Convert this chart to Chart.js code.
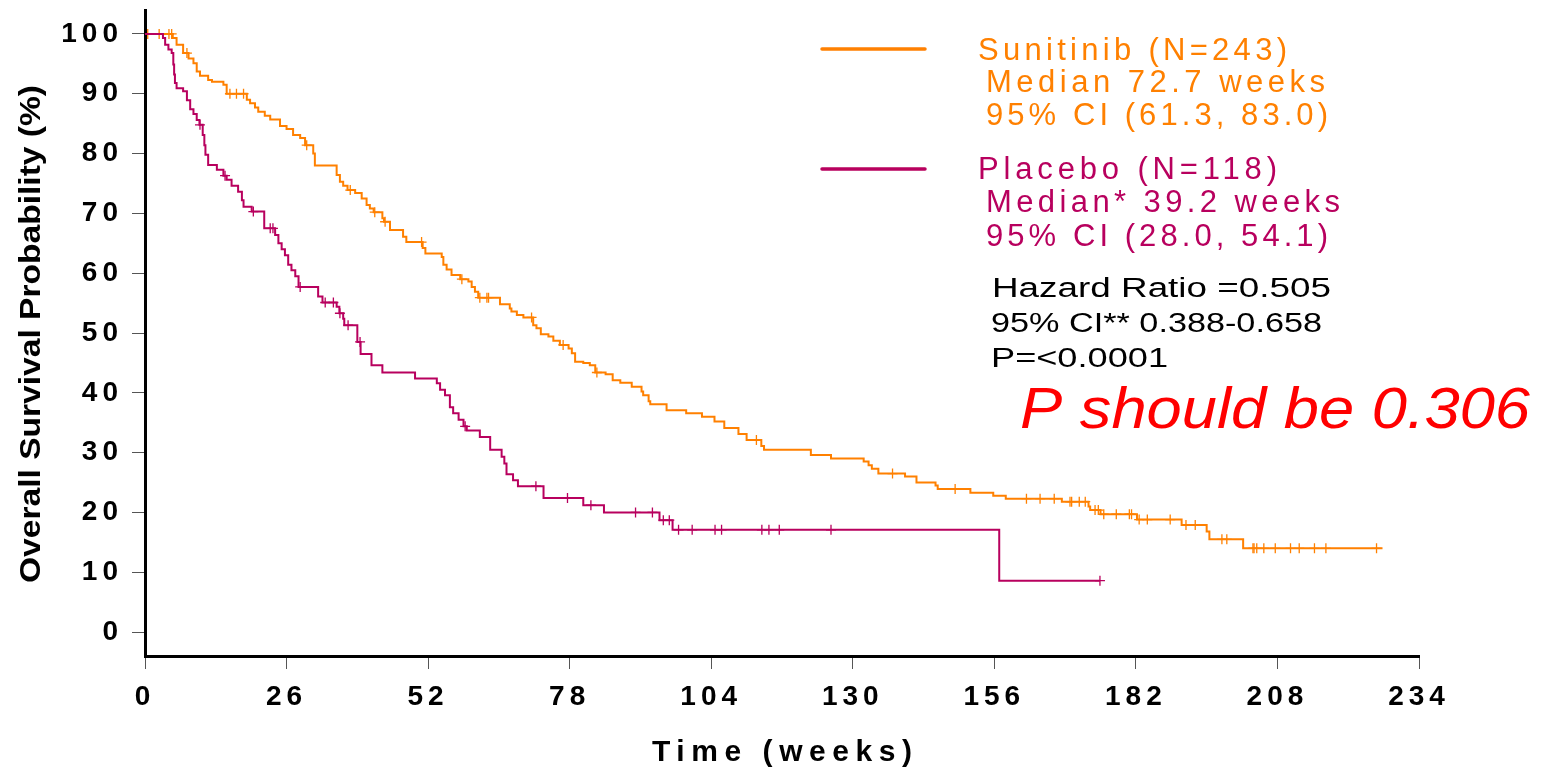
<!DOCTYPE html>
<html>
<head>
<meta charset="utf-8">
<script src="https://cdn.jsdelivr.net/npm/chart.js@4.4.1/dist/chart.umd.min.js"></script>
<style>
  html, body { margin: 0; background: #fff; }
  #wrap { width: 1544px; height: 771px; position: relative; }
</style>
</head>
<body>
<div id="wrap"><canvas id="chart"></canvas></div>
<script>
// Kaplan-Meier overall survival, sunitinib vs placebo (weeks)

const xTickValues = [0, 26, 52, 78, 104, 130, 156, 182, 208, 234];
const yTickValues = [0, 10, 20, 30, 40, 50, 60, 70, 80, 90, 100];

// event times (weeks) and survival (%) after each event
const sunTimes = [0, 5.1, 5.8, 7.0, 8.0, 8.9, 9.5, 10.1, 11.6, 12.3, 14.4, 15.0, 18.7, 19.3, 20.2, 20.8,
  22.0, 23.0, 24.8, 26.0, 27.2, 28.5, 29.4, 30.9, 31.2, 35.2, 35.8, 36.4, 37.2, 38.6, 39.8, 40.7,
  41.3, 42.0, 43.6, 43.9, 45.0, 47.4, 48.0, 51.0, 51.5, 54.5, 54.8, 55.4, 56.3, 57.9, 59.4, 60.0,
  60.6, 61.2, 65.2, 67.0, 67.3, 68.3, 69.5, 71.3, 71.9, 72.7, 74.1, 75.0, 76.2, 77.8, 78.4, 79.0,
  80.5, 81.7, 82.7, 84.6, 85.9, 87.3, 89.4, 91.2, 91.5, 92.5, 92.8, 95.8, 99.4, 102.3, 104.6, 106.4,
  109.0, 110.5, 113.2, 113.7, 122.3, 126.0, 132.0, 132.9, 133.5, 134.7, 139.6, 141.7, 145.2, 145.6,
  151.6, 155.8, 158.1, 168.4, 173.3, 173.6, 175.5, 182.2, 190.4, 195.0, 195.5, 201.7, 227.3];
const sunSurv = [100, 99.3, 98.2, 96.8, 95.9, 95.1, 93.7, 93.0, 92.3, 92.0, 91.5, 90.0, 89.0, 88.4, 87.7, 87.0,
  86.3, 85.7, 84.6, 84.1, 83.1, 82.6, 81.4, 80.0, 78.0, 76.4, 75.3, 74.6, 73.9, 73.4, 72.5, 71.4,
  70.8, 70.2, 69.2, 68.6, 67.2, 66.1, 65.2, 64.2, 63.3, 62.7, 61.4, 60.6, 59.7, 59.0, 58.6, 57.7,
  56.9, 55.9, 54.8, 54.1, 53.6, 53.0, 52.6, 51.3, 50.8, 49.8, 49.4, 48.7, 48.0, 47.4, 46.6, 45.2,
  45.0, 44.6, 43.4, 43.1, 42.1, 41.7, 41.0, 40.2, 39.6, 38.6, 38.1, 37.1, 36.6, 36.0, 35.2, 34.1,
  33.1, 32.1, 31.1, 30.5, 29.6, 29.0, 28.5, 27.9, 27.3, 26.5, 26.0, 25.0, 24.5, 23.9,
  23.3, 22.8, 22.3, 21.8, 21.0, 20.4, 19.7, 18.8, 17.9, 16.8, 15.5, 14.0, 14.0];
const sunCensored = [0.5, 2.6, 4.4, 4.9, 7.7, 15.6, 16.8, 18.1, 29.7, 37.7, 42.2, 44.1, 50.8, 58.2, 61.5,
  62.8, 63.1, 71.0, 76.8, 83.0, 112.3, 137.3, 148.8, 161.9, 164.4, 167.0, 169.9, 170.2, 171.6, 172.7,
  174.5, 175.1, 176.1, 178.4, 180.8, 181.2, 182.6, 184.1, 188.3, 191.2, 192.9, 197.8, 198.7, 203.5,
  203.7, 204.2, 205.5, 207.6, 210.4, 212.0, 214.8, 216.9, 226.2];

const plaTimes = [0, 3.3, 3.7, 4.3, 4.9, 5.2, 5.35, 5.5, 5.8, 7.0, 7.7, 8.3, 8.9, 9.5, 10.0, 10.6, 10.9,
  11.1, 11.6, 13.2, 14.4, 15.0, 15.9, 17.1, 17.8, 18.1, 19.6, 21.9, 23.9, 24.5, 25.1, 25.7, 26.3,
  26.9, 27.6, 28.2, 31.8, 32.6, 35.2, 35.7, 36.4, 36.6, 39.0, 39.6, 41.6, 43.6, 49.6, 53.6, 54.2,
  55.1, 56.0, 56.6, 57.6, 58.5, 59.1, 61.5, 63.4, 65.5, 66.0, 66.4, 67.6, 68.5, 73.2, 80.5, 84.3,
  94.5, 96.9, 156.9, 175.4];
const plaSurv = [100, 99.3, 98.2, 97.4, 96.8, 94.9, 93.2, 91.8, 90.9, 90.4, 88.9, 87.4, 86.6, 85.6, 84.8, 83.1, 81.4,
  79.8, 78.1, 77.3, 76.3, 75.6, 74.6, 73.6, 72.2, 71.1, 70.3, 67.5, 66.4, 65.0, 64.0, 63.0, 61.4,
  60.5, 59.5, 57.7, 56.1, 55.1, 54.4, 53.3, 52.4, 51.3, 48.5, 46.5, 44.6, 43.4, 42.4, 41.6, 40.5,
  39.6, 37.6, 36.6, 35.5, 34.4, 33.7, 32.6, 30.5, 29.3, 28.2, 26.4, 25.4, 24.4, 22.4, 21.2, 20.0,
  18.7, 17.1, 8.6, 8.6];
const plaCensored = [10.1, 14.7, 19.9, 23.0, 23.5, 28.5, 33.1, 34.6, 35.8, 37.3, 39.5, 58.8, 71.8, 77.6,
  81.9, 90.1, 93.2, 95.2, 96.3, 98.0, 100.5, 104.7, 105.9, 113.3, 114.6, 116.5, 126.0, 175.4];

const SUN_COLOR = '#ff8000';
const PLA_COLOR = '#b8005e';
const FONT = '"Liberation Sans", Arial, sans-serif';

function curve(times, surv) {
  return times.map((t, i) => ({ x: t, y: surv[i] }));
}

// survival level of the step curve at time t
function levelAt(times, surv, t) {
  let v = surv[0];
  for (let i = 0; i < times.length; i++) {
    if (times[i] <= t) v = surv[i];
  }
  return v;
}

function marks(censored, times, surv) {
  return censored.map(t => ({ x: t, y: levelAt(times, surv, t) }));
}

// draw text fitted to a width: 'spread' adds letter spacing, 'stretch' scales glyphs
function fitText(ctx, str, x, y, width, font, color, mode) {
  ctx.save();
  ctx.font = font;
  ctx.fillStyle = color;
  ctx.textAlign = 'left';
  ctx.textBaseline = 'alphabetic';
  ctx.letterSpacing = '0px';
  const w = ctx.measureText(str).width;
  if (mode === 'spread') {
    ctx.letterSpacing = ((width - w) / (str.length - 1)) + 'px';
    ctx.fillText(str, x, y);
  } else {
    ctx.translate(x, y);
    ctx.scale(width / w, 1);
    ctx.fillText(str, 0, 0);
  }
  ctx.restore();
}

const annotationPlugin = {
  id: 'kmText',
  beforeDraw(chart) {
    chart.ctx.letterSpacing = '5px';
  },
  afterDraw(chart) {
    const ctx = chart.ctx;
    ctx.letterSpacing = '0px';

    // legend swatches
    ctx.save();
    ctx.lineWidth = 3.5;
    ctx.lineCap = 'round';
    ctx.strokeStyle = SUN_COLOR;
    ctx.beginPath(); ctx.moveTo(822, 49); ctx.lineTo(925, 49); ctx.stroke();
    ctx.strokeStyle = PLA_COLOR;
    ctx.beginPath(); ctx.moveTo(822, 169); ctx.lineTo(925, 169); ctx.stroke();
    ctx.restore();

    const legFont = '31px ' + FONT;
    fitText(ctx, 'Sunitinib (N=243)', 978, 60, 309, legFont, SUN_COLOR, 'spread');
    fitText(ctx, 'Median 72.7 weeks', 986, 92, 339, legFont, SUN_COLOR, 'spread');
    fitText(ctx, '95% CI (61.3, 83.0)', 986, 125, 342, legFont, SUN_COLOR, 'spread');
    fitText(ctx, 'Placebo (N=118)', 978, 179, 299, legFont, PLA_COLOR, 'spread');
    fitText(ctx, 'Median* 39.2 weeks', 986, 212, 354, legFont, PLA_COLOR, 'spread');
    fitText(ctx, '95% CI (28.0, 54.1)', 986, 246, 342, legFont, PLA_COLOR, 'spread');

    const statFont = '27px ' + FONT;
    fitText(ctx, 'Hazard Ratio =0.505', 992, 297, 339, statFont, '#000', 'stretch');
    fitText(ctx, '95% CI** 0.388-0.658', 991, 332, 331, statFont, '#000', 'stretch');
    fitText(ctx, 'P=<0.0001', 991, 367, 177, statFont, '#000', 'stretch');

    fitText(ctx, 'P should be 0.306', 1020, 428, 510, 'italic 58px ' + FONT, '#ff0000', 'stretch');

    // axis titles
    fitText(ctx, 'Time (weeks)', 652, 761, 260, 'bold 30px ' + FONT, '#000', 'spread');

    ctx.save();
    ctx.translate(40, 583);
    ctx.rotate(-Math.PI / 2);
    fitText(ctx, 'Overall Survival Probability (%)', 0, 0, 498, 'bold 30px ' + FONT, '#000', 'stretch');
    ctx.restore();
  }
};

const ctx = document.getElementById('chart').getContext('2d');

new Chart(ctx, {
  type: 'line',
  data: {
    datasets: [
      {
        label: 'Placebo (N=118)',
        data: curve(plaTimes, plaSurv),
        borderColor: PLA_COLOR,
        borderWidth: 2,
        pointRadius: 0,
        stepped: 'before',
        fill: false
      },
      {
        label: 'Sunitinib (N=243)',
        data: curve(sunTimes, sunSurv),
        borderColor: SUN_COLOR,
        borderWidth: 2,
        pointRadius: 0,
        stepped: 'before',
        fill: false
      },
      {
        label: 'Placebo censored',
        type: 'scatter',
        data: marks(plaCensored, plaTimes, plaSurv),
        pointStyle: 'cross',
        pointRadius: 5,
        borderColor: PLA_COLOR,
        borderWidth: 1.3
      },
      {
        label: 'Sunitinib censored',
        type: 'scatter',
        data: marks(sunCensored, sunTimes, sunSurv),
        pointStyle: 'cross',
        pointRadius: 5,
        borderColor: SUN_COLOR,
        borderWidth: 1.3
      }
    ]
  },
  options: {
    responsive: true,
    maintainAspectRatio: false,
    devicePixelRatio: 1,
    animation: false,
    layout: { padding: { top: 10, right: 125, left: 0, bottom: 0 } },
    plugins: {
      legend: { display: false },
      tooltip: { enabled: false }
    },
    scales: {
      x: {
        type: 'linear',
        min: 0,
        max: 234,
        afterBuildTicks(scale) { scale.ticks = xTickValues.map(v => ({ value: v })); },
        afterFit(scale) {
          scale.height = 115;
          scale.paddingLeft = 0;
          scale.paddingRight = 0;
        },
        border: { display: true, color: '#000', width: 3 },
        grid: { drawOnChartArea: false, drawTicks: true, tickLength: 13, tickColor: '#555', tickWidth: 1 },
        ticks: {
          color: '#000',
          padding: 11,
          maxRotation: 0,
          font: { family: FONT, size: 28, weight: 'bold' }
        }
      },
      y: {
        type: 'linear',
        min: -4,
        max: 104,
        afterBuildTicks(scale) { scale.ticks = yTickValues.map(v => ({ value: v })); },
        afterFit(scale) {
          scale.width = 145;
          scale.paddingTop = 0;
          scale.paddingBottom = 0;
        },
        border: { display: true, color: '#000', width: 3 },
        grid: { drawOnChartArea: false, drawTicks: true, tickLength: 13, tickColor: '#555', tickWidth: 1 },
        ticks: {
          color: '#000',
          padding: 9,
          font: { family: FONT, size: 28, weight: 'bold' }
        }
      }
    }
  },
  plugins: [annotationPlugin]
});
</script>
</body>
</html>
